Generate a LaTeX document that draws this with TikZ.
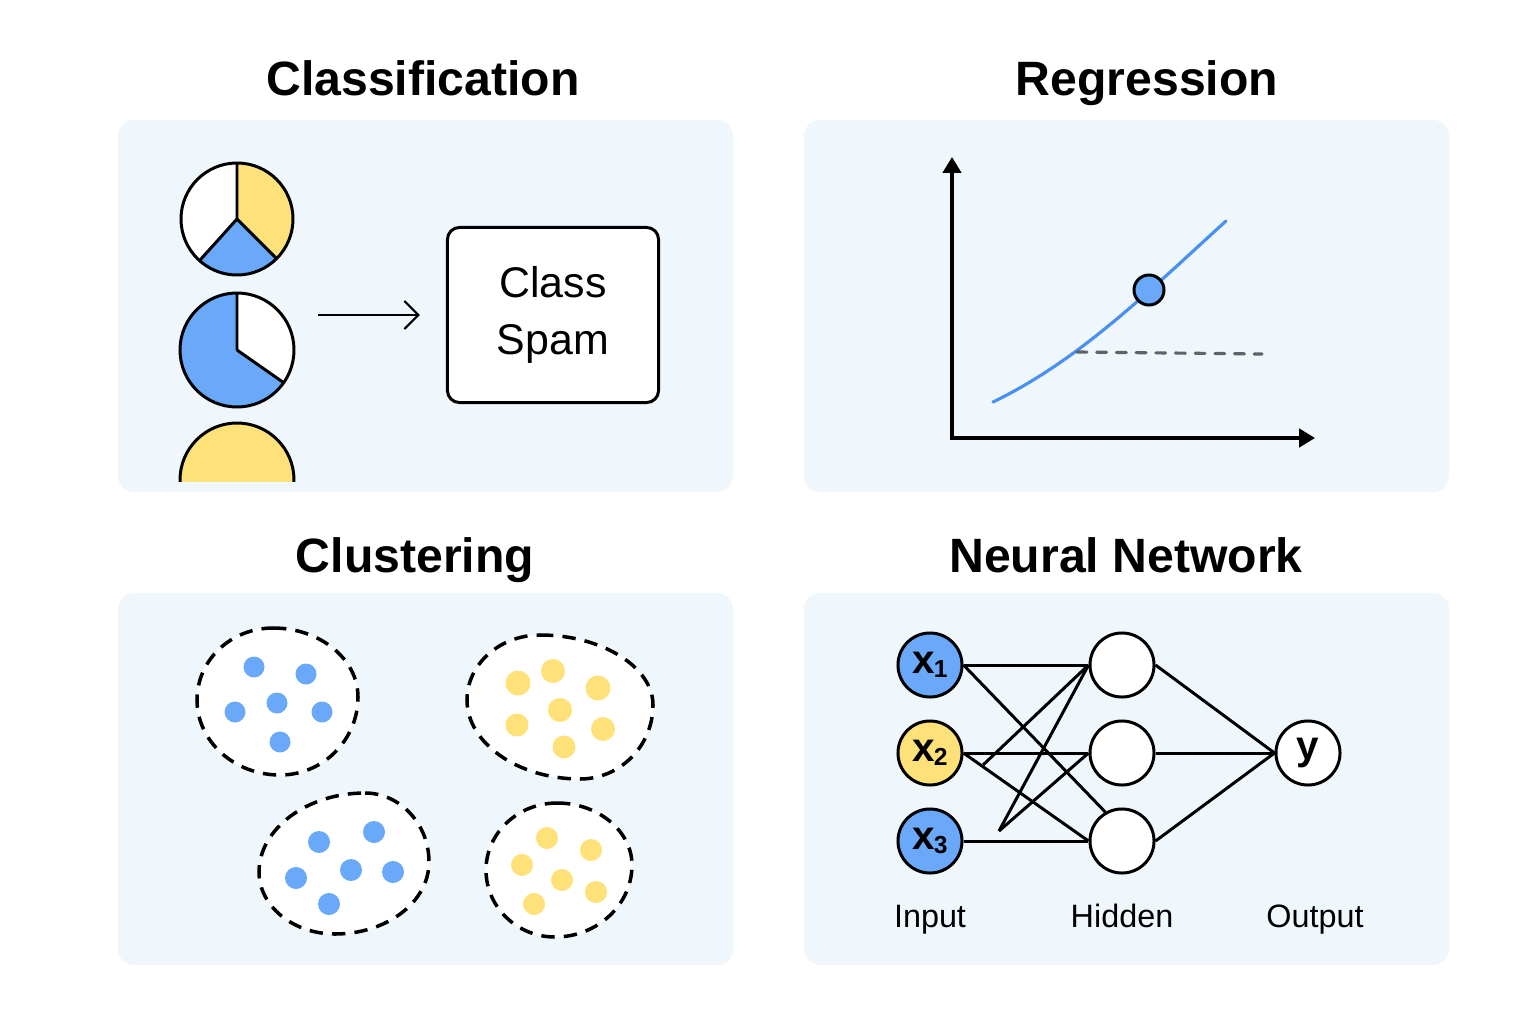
\documentclass[tikz,border=0pt]{standalone}
\usepackage{fontspec}
\setmainfont{Liberation Sans}
\usetikzlibrary{arrows.meta}

\definecolor{panelbg}{RGB}{239,247,253}
\definecolor{pieblue}{RGB}{106,168,250}
\definecolor{pieyellow}{RGB}{255,225,122}
\definecolor{curveblue}{RGB}{74,144,240}
\definecolor{dashgray}{RGB}{95,99,104}

\tikzset{
  panel/.style={fill=panelbg, rounded corners=0.16cm},
  title/.style={anchor=base, font=\fontsize{13.7}{16}\selectfont\bfseries},
  outline/.style={line width=0.85pt},
  blob/.style={draw, fill=white, line width=1pt, dash pattern=on 3.8pt off 2.6pt},
  neuron/.style={circle, draw, line width=0.85pt, minimum size=0.64cm, inner sep=0pt,
    fill=white, font=\fontsize{11.5}{12}\selectfont\bfseries},
  layerlabel/.style={anchor=base, font=\fontsize{9.2}{10}\selectfont},
  link/.style={line width=0.85pt},
}
\newcommand{\xin}[1]{x\kern-0.03em\raisebox{-0.2ex}{\fontsize{7}{7}\selectfont #1}}

\begin{document}
\begin{tikzpicture}[x=0.01cm, y=-0.01cm]
  \useasboundingbox (0,0) rectangle (1536,1024);
  \fill[white] (0,0) rectangle (1536,1024);

  % panels
  \fill[panel] (118,120) rectangle (733,492);
  \fill[panel] (804,120) rectangle (1449,492);
  \fill[panel] (118,593) rectangle (733,965);
  \fill[panel] (804,593) rectangle (1449,965);

  % titles
  \node[title] (tcls) at (423,95) {Classification};
  \node[title] (treg) at (1147,95) {Regression};
  \node[title] (tclu) at (415,572) {Clustering};
  \node[title] (tnn) at (1126,572) {Neural Network};

  % classification
  \coordinate (p1) at (237,219);
  \fill[pieyellow] (p1) -- ++(-90:56) arc[start angle=-90, end angle=45, radius=56] -- cycle;
  \fill[pieblue] (p1) -- ++(45:56) arc[start angle=45, end angle=132, radius=56] -- cycle;
  \fill[white] (p1) -- ++(132:56) arc[start angle=132, end angle=270, radius=56] -- cycle;
  \draw[outline] (p1) circle[radius=56];
  \draw[outline] (p1) -- ++(-90:56) (p1) -- ++(45:56) (p1) -- ++(132:56);

  \coordinate (p2) at (237,350);
  \fill[white] (p2) -- ++(-90:57) arc[start angle=-90, end angle=35, radius=57] -- cycle;
  \fill[pieblue] (p2) -- ++(35:57) arc[start angle=35, end angle=270, radius=57] -- cycle;
  \draw[outline] (p2) circle[radius=57];
  \draw[outline] (p2) -- ++(-90:57) (p2) -- ++(35:57);

  \begin{scope}
    \clip (170,400) rectangle (310,481);
    \fill[pieyellow] (237,480) circle[radius=57];
    \draw[outline] (237,480) circle[radius=57];
  \end{scope}

  \node[draw, outline, fill=white, rounded corners=0.12cm, minimum width=2.11cm,
    minimum height=1.75cm, align=center, font=\fontsize{12.2}{16.3}\selectfont] (cls) at (553,315) {Class\\Spam};
  \coordinate (arr) at (318,315);
  \draw[line width=0.6pt, -{Straight Barb[length=4pt, width=8pt]}] (arr) -- ([xshift=-0.26cm]cls.west);

  % regression
  \coordinate (ytop) at (952,157);
  \coordinate (orig) at (952,438);
  \coordinate (xend) at (1315,438);
  \draw[line width=0.9pt, {Triangle[length=4.5pt, width=5.2pt]}-{Triangle[length=4.5pt, width=5.2pt]}]
    (ytop) -- (orig) -- (xend);
  \draw[curveblue, line width=0.9pt, line cap=round] (993,402) .. controls (1080,360) and (1150,290) .. (1226,221);
  \draw[dashgray, line width=0.9pt, line cap=round, dash pattern=on 2.8pt off 2.8pt] (1077,352) -- (1262,354);
  \node[circle, draw, outline, fill=pieblue, minimum size=0.30cm, inner sep=0pt] (pt) at (1149,290) {};

  % clustering
  \draw[blob] (273,628) .. controls (320,628) and (358,659) .. (358,697)
    .. controls (358,740) and (323,775) .. (280,775)
    .. controls (234,775) and (197,741) .. (197,700)
    .. controls (197,660) and (231,628) .. (273,628) -- cycle;
  \draw[blob] (540,635) .. controls (602,635) and (653,667) .. (653,705)
    .. controls (653,746) and (620,779) .. (580,779)
    .. controls (518,779) and (467,743) .. (467,700)
    .. controls (467,664) and (500,635) .. (540,635) -- cycle;
  \draw[blob] (365,793) .. controls (400,793) and (429,824) .. (429,862)
    .. controls (429,902) and (387,934) .. (335,934)
    .. controls (293,934) and (259,906) .. (259,872)
    .. controls (259,829) and (307,793) .. (365,793) -- cycle;
  \draw[blob] (557,803) .. controls (598,803) and (632,831) .. (632,865)
    .. controls (632,905) and (597,937) .. (555,937)
    .. controls (517,937) and (486,907) .. (486,870)
    .. controls (486,833) and (518,803) .. (557,803) -- cycle;

  \fill[pieblue] (254,667) circle[radius=10.5];
  \fill[pieblue] (306,674) circle[radius=10.5];
  \fill[pieblue] (235,712) circle[radius=10.5];
  \fill[pieblue] (277,703) circle[radius=10.5];
  \fill[pieblue] (322,712) circle[radius=10.5];
  \fill[pieblue] (280,742) circle[radius=10.5];

  \fill[pieyellow] (518,683) circle[radius=12.5];
  \fill[pieyellow] (553,671) circle[radius=12];
  \fill[pieyellow] (598,688) circle[radius=12.5];
  \fill[pieyellow] (560,710) circle[radius=12];
  \fill[pieyellow] (517,725) circle[radius=11.5];
  \fill[pieyellow] (603,729) circle[radius=12];
  \fill[pieyellow] (564,747) circle[radius=11.5];

  \fill[pieblue] (319,842) circle[radius=11];
  \fill[pieblue] (374,832) circle[radius=11];
  \fill[pieblue] (296,878) circle[radius=11];
  \fill[pieblue] (351,870) circle[radius=11];
  \fill[pieblue] (393,872) circle[radius=11];
  \fill[pieblue] (329,904) circle[radius=11];

  \fill[pieyellow] (547,838) circle[radius=11];
  \fill[pieyellow] (591,850) circle[radius=11];
  \fill[pieyellow] (522,865) circle[radius=11];
  \fill[pieyellow] (562,880) circle[radius=11];
  \fill[pieyellow] (596,892) circle[radius=11];
  \fill[pieyellow] (534,904) circle[radius=11];

  % neural network
  \node[neuron, fill=pieblue] (x1) at (930,665) {\xin{1}};
  \node[neuron, fill=pieyellow] (x2) at (930,753) {\xin{2}};
  \node[neuron, fill=pieblue] (x3) at (930,841) {\xin{3}};
  \node[neuron] (h1) at (1122,665) {};
  \node[neuron] (h2) at (1122,753) {};
  \node[neuron] (h3) at (1122,841) {};
  \node[neuron] (y) at (1308,753) {y};
  \coordinate (k2) at (983,765);
  \coordinate (k3) at (999,831);

  \draw[link] (x1.east) -- (h1.west);
  \draw[link] (x1.east) -- (h3.120);
  \draw[link] (x2.east) -- (h2.west);
  \draw[link] (x2.east) -- (h3.west);
  \draw[link] (x3.east) -- (h3.west);
  \draw[link] (k2) -- (h1.west);
  \draw[link] (k3) -- (h1.west);
  \draw[link] (k3) -- (h2.west);
  \draw[link] (h1.east) -- (y.west);
  \draw[link] (h2.east) -- (y.west);
  \draw[link] (h3.east) -- (y.west);

  \node[layerlabel] (lin) at (930,927) {Input};
  \node[layerlabel] (lhid) at (1122,927) {Hidden};
  \node[layerlabel] (lout) at (1315,927) {Output};
\end{tikzpicture}
\end{document}
